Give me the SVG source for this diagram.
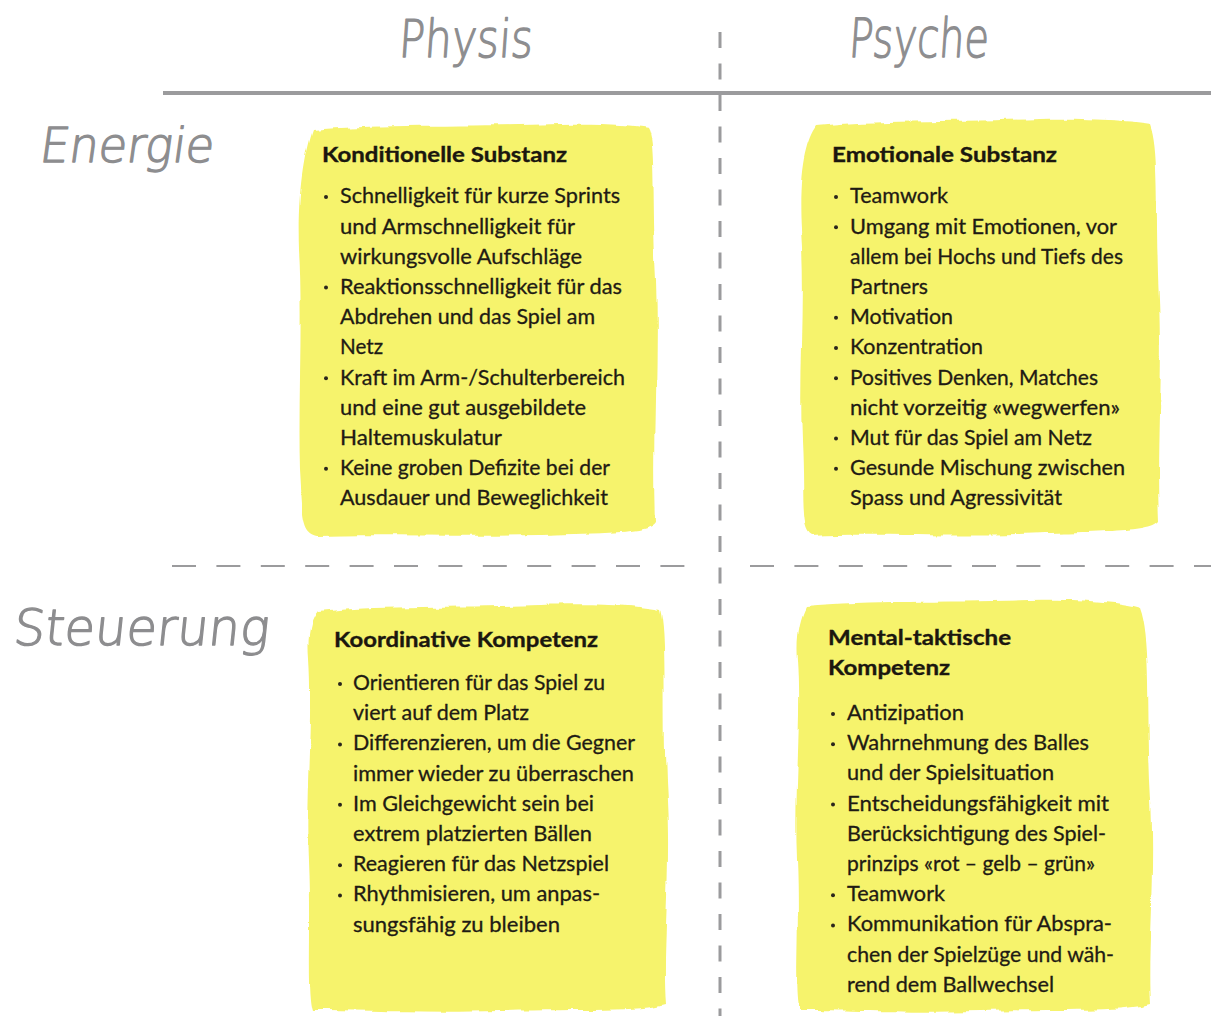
<svg xmlns="http://www.w3.org/2000/svg" width="1211" height="1016" viewBox="0 0 1211 1016">
  <defs>
    <!-- rough, brushy edge for the highlighter patches -->
    <filter id="brush" x="-5%" y="-5%" width="110%" height="110%">
      <feTurbulence type="fractalNoise" baseFrequency="0.06 0.012" numOctaves="2" seed="7" result="n"/>
      <feDisplacementMap in="SourceGraphic" in2="n" scale="7" xChannelSelector="R" yChannelSelector="G"/>
    </filter>
  </defs>
  <style>
    .hand { font-family: "DejaVu Sans", "Liberation Sans", sans-serif; font-weight: 200; fill: #8d8d8f; stroke: #8d8d8f; stroke-width: 1.3; stroke-linejoin: round; }
    .title { font-family: Lato, "Liberation Sans", sans-serif; font-weight: 700; font-size: 20.5px; fill: #1b170f; stroke: #1b170f; stroke-width: 0.35; }
    .body { font-family: Lato, "Liberation Sans", sans-serif; font-weight: 400; font-size: 21px; fill: #1f1b14; stroke: #1f1b14; stroke-width: 0.3; }
    .mark { fill: #f6f36c; filter: url(#brush); }
    .dot { fill: #2a251c; }
    .rule { stroke: #9b9b9d; fill: none; }
  </style>

  <rect width="1211" height="1016" fill="#ffffff"/>

  <!-- axis lines of the 2x2 grid -->
  <g id="grid">
    <line class="rule" x1="163" y1="93" x2="1211" y2="93" stroke-width="4"/>
    <line class="rule" x1="720" y1="32" x2="720" y2="1016" stroke-width="3" stroke-dasharray="16 15.5"/>
    <line class="rule" x1="172" y1="566" x2="686" y2="566" stroke-width="2" stroke-dasharray="24 20.4"/>
    <line class="rule" x1="750" y1="566" x2="1211" y2="566" stroke-width="2" stroke-dasharray="24 20.4"/>
  </g>

  <!-- handwritten axis labels -->
  <g id="label-physis"><text class="hand" x="398" y="57" font-size="52" textLength="134" lengthAdjust="spacingAndGlyphs" transform="skewX(-4) translate(4 0)">Physis</text></g>
  <g id="label-psyche"><text class="hand" x="848" y="57" font-size="54" textLength="140" lengthAdjust="spacingAndGlyphs" transform="skewX(-4) translate(4 0)">Psyche</text></g>
  <g id="label-energie"><text class="hand" x="38" y="162" font-size="48" textLength="174" lengthAdjust="spacingAndGlyphs" transform="skewX(-8) translate(23 0)">Energie</text></g>
  <g id="label-steuerung"><text class="hand" x="12" y="645" font-size="50" textLength="256" lengthAdjust="spacingAndGlyphs" transform="skewX(-6) translate(68 0)">Steuerung</text></g>

  <!-- Energie / Physis -->
  <g id="konditionelle-substanz">
    <path class="mark" d="M312,130 C380,124 470,127 560,124 C600,123 630,125 648,128 C656,140 652,200 656,280 C659,360 653,440 656,522 C650,534 600,533 540,535 C460,537 380,534 318,536 C302,532 303,520 300,470 C298,400 303,320 299,250 C297,190 305,150 312,130 Z"/>
    <text class="title" x="322" y="162" textLength="245" lengthAdjust="spacingAndGlyphs">Konditionelle Substanz</text>
    <g class="dot">
      <circle cx="326" cy="197" r="2"/><circle cx="326" cy="287.6" r="2"/><circle cx="326" cy="378.2" r="2"/><circle cx="326" cy="468.8" r="2"/>
    </g>
    <g class="body">
      <text x="340" y="203.3" textLength="280" lengthAdjust="spacingAndGlyphs">Schnelligkeit für kurze Sprints</text>
      <text x="340" y="233.5" textLength="235" lengthAdjust="spacingAndGlyphs">und Armschnelligkeit für</text>
      <text x="340" y="263.7" textLength="242" lengthAdjust="spacingAndGlyphs">wirkungsvolle Aufschläge</text>
      <text x="340" y="293.9" textLength="282" lengthAdjust="spacingAndGlyphs">Reaktionsschnelligkeit für das</text>
      <text x="340" y="324.1" textLength="255" lengthAdjust="spacingAndGlyphs">Abdrehen und das Spiel am</text>
      <text x="340" y="354.3" textLength="43" lengthAdjust="spacingAndGlyphs">Netz</text>
      <text x="340" y="384.5" textLength="285" lengthAdjust="spacingAndGlyphs">Kraft im Arm-/Schulterbereich</text>
      <text x="340" y="414.7" textLength="246" lengthAdjust="spacingAndGlyphs">und eine gut ausgebildete</text>
      <text x="340" y="444.9" textLength="162" lengthAdjust="spacingAndGlyphs">Haltemuskulatur</text>
      <text x="340" y="475.1" textLength="270" lengthAdjust="spacingAndGlyphs">Keine groben Defizite bei der</text>
      <text x="340" y="505.3" textLength="268" lengthAdjust="spacingAndGlyphs">Ausdauer und Beweglichkeit</text>
    </g>
  </g>

  <!-- Energie / Psyche -->
  <g id="emotionale-substanz">
    <path class="mark" d="M816,126 C880,120 960,122 1040,119 C1090,118 1130,121 1150,124 C1160,150 1155,220 1159,300 C1162,380 1156,450 1159,522 C1150,534 1090,532 1020,535 C940,537 870,533 812,536 C800,530 805,500 802,440 C799,370 806,300 801,230 C798,170 806,140 816,126 Z"/>
    <text class="title" x="832" y="162" textLength="225" lengthAdjust="spacingAndGlyphs">Emotionale Substanz</text>
    <g class="dot">
      <circle cx="836" cy="197" r="2"/><circle cx="836" cy="227.2" r="2"/><circle cx="836" cy="317.8" r="2"/><circle cx="836" cy="348" r="2"/>
      <circle cx="836" cy="378.2" r="2"/><circle cx="836" cy="438.6" r="2"/><circle cx="836" cy="468.8" r="2"/>
    </g>
    <g class="body">
      <text x="850" y="203.3" textLength="98" lengthAdjust="spacingAndGlyphs">Teamwork</text>
      <text x="850" y="233.5" textLength="267" lengthAdjust="spacingAndGlyphs">Umgang mit Emotionen, vor</text>
      <text x="850" y="263.7" textLength="273" lengthAdjust="spacingAndGlyphs">allem bei Hochs und Tiefs des</text>
      <text x="850" y="293.9" textLength="78" lengthAdjust="spacingAndGlyphs">Partners</text>
      <text x="850" y="324.1" textLength="103" lengthAdjust="spacingAndGlyphs">Motivation</text>
      <text x="850" y="354.3" textLength="133" lengthAdjust="spacingAndGlyphs">Konzentration</text>
      <text x="850" y="384.5" textLength="248" lengthAdjust="spacingAndGlyphs">Positives Denken, Matches</text>
      <text x="850" y="414.7" textLength="270" lengthAdjust="spacingAndGlyphs">nicht vorzeitig «wegwerfen»</text>
      <text x="850" y="444.9" textLength="242" lengthAdjust="spacingAndGlyphs">Mut für das Spiel am Netz</text>
      <text x="850" y="475.1" textLength="275" lengthAdjust="spacingAndGlyphs">Gesunde Mischung zwischen</text>
      <text x="850" y="505.3" textLength="212" lengthAdjust="spacingAndGlyphs">Spass und Agressivität</text>
    </g>
  </g>

  <!-- Steuerung / Physis -->
  <g id="koordinative-kompetenz">
    <path class="mark" d="M318,612 C380,605 460,608 540,605 C600,603 640,606 660,610 C668,640 662,720 667,800 C671,880 662,950 666,1004 C640,1012 580,1009 500,1011 C420,1013 360,1010 312,1010 C306,990 311,930 308,860 C305,790 313,720 309,660 C307,635 311,620 318,612 Z"/>
    <text class="title" x="334" y="647" textLength="264" lengthAdjust="spacingAndGlyphs">Koordinative Kompetenz</text>
    <g class="dot">
      <circle cx="340" cy="684" r="2"/><circle cx="340" cy="744.4" r="2"/><circle cx="340" cy="804.8" r="2"/>
      <circle cx="340" cy="865.2" r="2"/><circle cx="340" cy="895.4" r="2"/>
    </g>
    <g class="body">
      <text x="353" y="690" textLength="252" lengthAdjust="spacingAndGlyphs">Orientieren für das Spiel zu</text>
      <text x="353" y="720.2" textLength="176" lengthAdjust="spacingAndGlyphs">viert auf dem Platz</text>
      <text x="353" y="750.4" textLength="282" lengthAdjust="spacingAndGlyphs">Differenzieren, um die Gegner</text>
      <text x="353" y="780.6" textLength="281" lengthAdjust="spacingAndGlyphs">immer wieder zu überraschen</text>
      <text x="353" y="810.8" textLength="241" lengthAdjust="spacingAndGlyphs">Im Gleichgewicht sein bei</text>
      <text x="353" y="841" textLength="239" lengthAdjust="spacingAndGlyphs">extrem platzierten Bällen</text>
      <text x="353" y="871.2" textLength="256" lengthAdjust="spacingAndGlyphs">Reagieren für das Netzspiel</text>
      <text x="353" y="901.4" textLength="247" lengthAdjust="spacingAndGlyphs">Rhythmisieren, um anpas-</text>
      <text x="353" y="931.6" textLength="207" lengthAdjust="spacingAndGlyphs">sungsfähig zu bleiben</text>
    </g>
  </g>

  <!-- Steuerung / Psyche -->
  <g id="mental-taktische-kompetenz">
    <path class="mark" d="M806,606 C870,600 950,603 1030,600 C1080,599 1120,602 1140,608 C1152,640 1146,720 1151,800 C1155,880 1147,950 1150,1004 C1120,1012 1060,1009 980,1011 C900,1013 840,1010 800,1010 C794,990 800,930 797,860 C794,790 802,720 798,660 C796,635 800,618 806,606 Z"/>
    <text class="title" x="828" y="645" textLength="183" lengthAdjust="spacingAndGlyphs">Mental-taktische</text>
    <text class="title" x="828" y="675.2" textLength="122" lengthAdjust="spacingAndGlyphs">Kompetenz</text>
    <g class="dot">
      <circle cx="833" cy="714" r="2"/><circle cx="833" cy="744.2" r="2"/><circle cx="833" cy="804.6" r="2"/>
      <circle cx="833" cy="895.2" r="2"/><circle cx="833" cy="925.4" r="2"/>
    </g>
    <g class="body">
      <text x="847" y="720" textLength="117" lengthAdjust="spacingAndGlyphs">Antizipation</text>
      <text x="847" y="750.2" textLength="242" lengthAdjust="spacingAndGlyphs">Wahrnehmung des Balles</text>
      <text x="847" y="780.4" textLength="207" lengthAdjust="spacingAndGlyphs">und der Spielsituation</text>
      <text x="847" y="810.6" textLength="262" lengthAdjust="spacingAndGlyphs">Entscheidungsfähigkeit mit</text>
      <text x="847" y="840.8" textLength="259" lengthAdjust="spacingAndGlyphs">Berücksichtigung des Spiel-</text>
      <text x="847" y="871" textLength="248" lengthAdjust="spacingAndGlyphs">prinzips «rot – gelb – grün»</text>
      <text x="847" y="901.2" textLength="98" lengthAdjust="spacingAndGlyphs">Teamwork</text>
      <text x="847" y="931.4" textLength="265" lengthAdjust="spacingAndGlyphs">Kommunikation für Abspra-</text>
      <text x="847" y="961.6" textLength="267" lengthAdjust="spacingAndGlyphs">chen der Spielzüge und wäh-</text>
      <text x="847" y="991.8" textLength="207" lengthAdjust="spacingAndGlyphs">rend dem Ballwechsel</text>
    </g>
  </g>
</svg>
